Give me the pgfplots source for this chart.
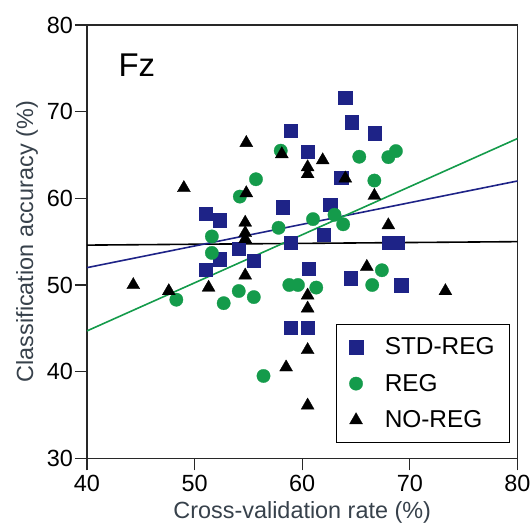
\documentclass[border=0pt]{standalone}
\usepackage{fontspec}
\setmainfont{Liberation Sans}
\usepackage{pgfplots}
\pgfplotsset{compat=1.18}
\definecolor{stdblue}{RGB}{30,35,135}
\definecolor{reggreen}{RGB}{20,155,75}
\definecolor{labgray}{RGB}{55,65,75}
\definecolor{axgray}{RGB}{40,40,40}
\begin{document}
\begin{tikzpicture}
\begin{axis}[
 scale only axis, width=430.5bp, height=433.3bp,
 xmin=40, xmax=80, ymin=30, ymax=80,
 xtick={40,50,...,80}, ytick={30,40,...,80},
 xtick pos=bottom, ytick pos=left,
 tick align=outside, major tick length=12bp,
 axis line style={line width=1.6bp, draw=axgray},
 every tick/.style={line width=1.2bp, draw=axgray},
 font=\fontsize{23.5}{28}\selectfont,
 /pgf/number format/assume math mode=true,
 ticklabel style={font=\fontsize{23.5}{28}\selectfont, inner sep=2bp},
 xticklabel style={yshift=-3bp},
 xlabel={Cross-validation rate (\%)},
 ylabel={Classification accuracy (\%)},
 every axis x label/.style={at={(axis description cs:0.5,-0.140)}, anchor=base, text=labgray, font=\fontsize{23.5}{28}\selectfont},
 every axis y label/.style={at={(axis description cs:-0.139,0.5)}, anchor=center, rotate=90, text=labgray, font=\fontsize{23.5}{28}\selectfont},
 legend style={at={(axis description cs:0.983,0.0353)}, anchor=south east, draw=black, line width=1.2bp, inner xsep=13bp, inner ysep=11bp, row sep=14bp, font=\fontsize{24.5}{28}\selectfont,
   /tikz/every odd column/.style={column sep=20bp}},
 legend cell align=left,
]
\addplot[black, line width=1.6bp, forget plot] coordinates {(40,54.6) (80,55.0)};
\addplot[stdblue, line width=1.6bp, forget plot] coordinates {(40,52.0) (80,62.0)};
\addplot[reggreen, line width=1.6bp, forget plot] coordinates {(40,44.7) (80,66.9)};
\addplot[only marks, mark=square*, mark size=6.7bp, color=stdblue, line width=0.3bp] coordinates {
(64.0,71.6) (64.6,68.8) (66.7,67.5) (58.9,67.8) (60.5,65.4) (63.6,62.4)
(58.2,59.0) (62.6,59.3) (51.0,58.2) (52.3,57.5) (62.0,55.8) (58.9,54.9)
(68.0,54.9) (68.8,54.9) (54.1,54.2) (52.3,53.0) (55.5,52.8) (51.0,51.8)
(60.6,51.9) (64.5,50.8) (69.2,50.0) (58.9,45.1) (60.5,45.1)};
\addlegendentry{STD-REG}
\addplot[only marks, mark=*, mark size=6.7bp, color=reggreen, line width=0.3bp] coordinates {
(58.0,65.5) (65.3,64.8) (68.0,64.75) (68.7,65.45) (55.7,62.2) (66.7,62.05)
(54.2,60.2) (61.0,57.6) (63.0,58.1) (63.8,57.0) (57.8,56.6) (51.6,55.6)
(51.6,53.7) (67.4,51.7) (58.8,50.0) (59.6,50.0) (66.5,50.0) (61.3,49.7)
(54.1,49.3) (55.5,48.6) (48.3,48.3) (52.7,47.9) (56.4,39.5)};
\addlegendentry{REG}
\addplot[only marks, mark=triangle*, mark size=7.5bp, color=black, line width=0.3bp] coordinates {
(54.8,66.4) (58.1,65.1) (61.9,64.4) (60.5,63.6) (60.5,62.8) (64.0,62.3)
(49.0,61.2) (54.8,60.6) (66.7,60.3) (54.7,57.2) (54.7,56.0) (54.7,55.3)
(68.0,56.9) (66.0,52.1) (54.7,51.1) (44.3,50.0) (51.3,49.7) (47.6,49.3)
(73.3,49.3) (60.5,48.8) (60.5,47.3) (58.5,40.5) (60.5,42.5) (60.5,36.1)};
\addlegendentry{NO-REG}
\node[anchor=base west, font=\fontsize{33}{36}\selectfont] at (axis cs:42.6,74.1) {Fz};
\end{axis}
\pgfresetboundingbox
\path[use as bounding box] (-87bp,-64.7bp) rectangle (445bp,458.3bp);
\end{tikzpicture}
\end{document}
